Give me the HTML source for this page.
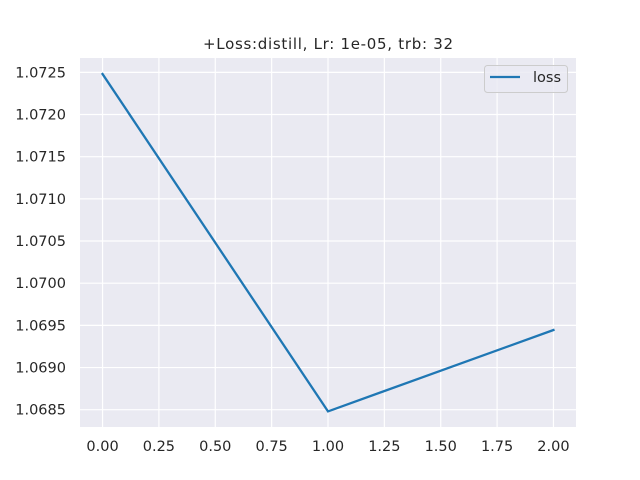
<!DOCTYPE html>
<html><head><meta charset="utf-8"><style>body{margin:0;background:#fff}svg{display:block;font-family:"DejaVu Sans","Liberation Sans",sans-serif}</style></head>
<body>
<svg id="chart" width="640" height="480"></svg>
<script>
const xValues=[0,1,2];
const lossValues=[1.07248,1.06848,1.069445];
const xTicks=[0,0.25,0.5,0.75,1.0,1.25,1.5,1.75,2.0];
const xTickLabels=["0.00","0.25","0.50","0.75","1.00","1.25","1.50","1.75","2.00"];
const yTicks=[1.0685,1.069,1.0695,1.07,1.0705,1.071,1.0715,1.072,1.0725];
const yTickLabels=["1.0685","1.0690","1.0695","1.0700","1.0705","1.0710","1.0715","1.0720","1.0725"];
const L=80,R=576,T=58,B=427;
const xmin=-0.1,xmax=2.1,ymin=1.068295,ymax=1.07267;
const sx=v=>L+(v-xmin)/(xmax-xmin)*(R-L);
const sy=v=>B-(v-ymin)/(ymax-ymin)*(B-T);
const svg=document.getElementById('chart');
const NS='http://www.w3.org/2000/svg';
function mk(tag,attrs,parent){const e=document.createElementNS(NS,tag);for(const k in attrs)e.setAttribute(k,attrs[k]);(parent||svg).appendChild(e);return e;}
let bg=mk('rect',{x:L,y:T,width:R-L,height:B-T,fill:'#eaeaf2'});


xTicks.forEach((t,i)=>{
 const g=mk('line',{x1:sx(t),x2:sx(t),y1:T,y2:B,stroke:'#fff','stroke-width':1.2});
 
 
 const tx=mk('text',{x:sx(t),y:B+24,'text-anchor':'middle','font-size':'14.5',fill:'#262626'});
 tx.textContent=xTickLabels[i];
 
 
});
yTicks.forEach((t,i)=>{
 const g=mk('line',{x1:L,x2:R,y1:sy(t),y2:sy(t),stroke:'#fff','stroke-width':1.2});
 
 
 const tx=mk('text',{x:L-14,y:sy(t)+5,'text-anchor':'end','font-size':'14.5',fill:'#262626'});
 tx.textContent=yTickLabels[i];
 
 
});
const pts=xValues.map((x,i)=>sx(x)+','+sy(lossValues[i])).join(' ');
const line=mk('polyline',{points:pts,fill:'none',stroke:'#1f77b4','stroke-width':2.3,'stroke-linecap':'square'});


const title=mk('text',{x:328,y:49,'text-anchor':'middle','font-size':'15',fill:'#262626',textLength:250});
title.textContent='+Loss:distill, Lr: 1e-05, trb: 32';


const lg=mk('g',{});


mk('rect',{x:484.5,y:65.5,width:83,height:27,rx:3,fill:'#eaeaf2','fill-opacity':0.8,stroke:'#cccccc'},lg);
mk('line',{x1:490,x2:520,y1:77,y2:77,stroke:'#1f77b4','stroke-width':2.3},lg);
const lt=mk('text',{x:533,y:82,'font-size':'14.5',fill:'#262626'},lg);
lt.textContent='loss';


</script>
</body></html>
